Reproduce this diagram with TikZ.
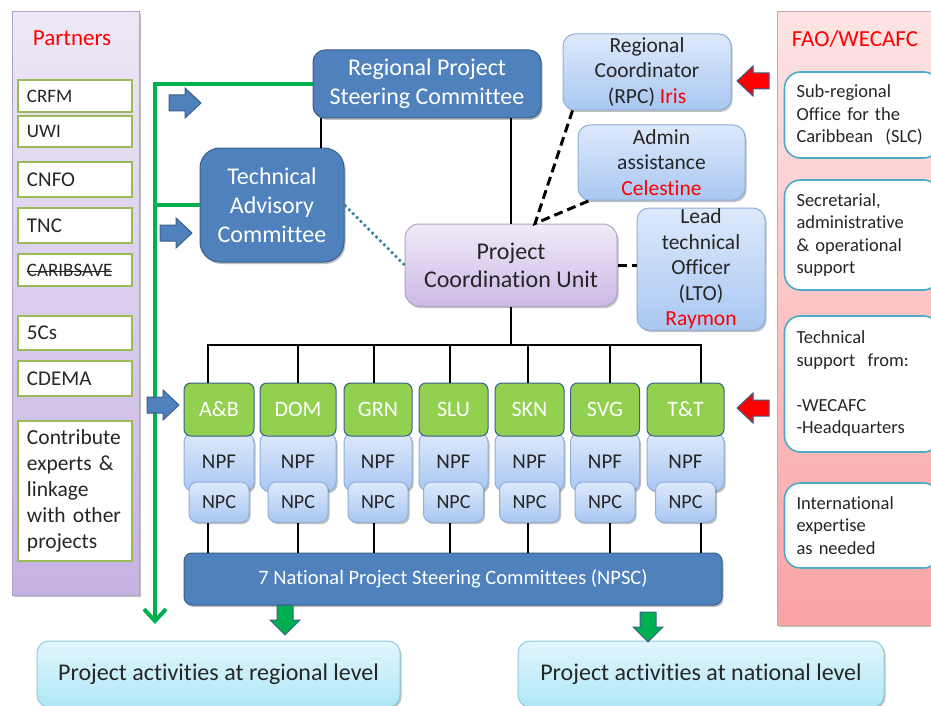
\documentclass[tikz,border=0pt]{standalone}
\usepackage{fontspec}
\setmainfont{Carlito}[Ligatures=NoCommon]
\usetikzlibrary{shadows,arrows.meta}

\definecolor{ink}{HTML}{262626}
\definecolor{alert}{HTML}{FF0000}
\definecolor{boxblue}{HTML}{4F81BD}
\definecolor{blueline}{HTML}{3A5F8C}
\definecolor{leafgreen}{HTML}{92D050}
\definecolor{linegreen}{HTML}{00B050}
\definecolor{partnerline}{HTML}{9BBB59}
\definecolor{lavtop}{HTML}{EEE8F6}
\definecolor{lavbot}{HTML}{C6B2E2}
\definecolor{lavline}{HTML}{B3A3CC}
\definecolor{pinktop}{HTML}{FDE4E4}
\definecolor{pinkbot}{HTML}{F9A3A3}
\definecolor{pinkline}{HTML}{D4A5A5}
\definecolor{skytop}{HTML}{DDE9FB}
\definecolor{skybot}{HTML}{A9C7F2}
\definecolor{skyline}{HTML}{8EB0DC}
\definecolor{pcutop}{HTML}{F1EBF8}
\definecolor{pcubot}{HTML}{CDB9E6}
\definecolor{pculine}{HTML}{B3A2C7}
\definecolor{cyantop}{HTML}{E2F6FC}
\definecolor{cyanbot}{HTML}{B0E7F7}
\definecolor{cyanline}{HTML}{92CDDC}
\definecolor{tealline}{HTML}{4BACC6}
\definecolor{dotteal}{HTML}{31859C}
\definecolor{arrowred}{HTML}{FF0000}
\definecolor{arrowgreen}{HTML}{00B050}

\newcommand\setfs[2]{\fontsize{#1pt}{#2pt}\selectfont}
\newsavebox\strikebox
\newcommand\struck[1]{\sbox\strikebox{#1}\rlap{\rule[0.32\ht\strikebox]{\wd\strikebox}{1pt}}\usebox\strikebox}

\tikzset{
  pics/rightblock/.style={code={
    \draw[fill=boxblue, draw=blueline, line width=1pt]
      (-16,-8) -- (0,-8) -- (0,-15) -- (16,0) -- (0,15) -- (0,8) -- (-16,8) -- cycle;}},
  pics/leftblock/.style={code={
    \draw[fill=arrowred, draw=blueline, line width=1pt]
      (16,-8) -- (0,-8) -- (0,-15) -- (-16,0) -- (0,15) -- (0,8) -- (16,8) -- cycle;}},
  pics/downblock/.style={code={
    \draw[fill=arrowgreen, draw=blueline, line width=1pt]
      (-8,-15) -- (-8,0) -- (-15,0) -- (0,15) -- (15,0) -- (8,0) -- (8,-15) -- cycle;}},
}

\begin{document}
\begin{tikzpicture}[x=1pt,y=-1pt,
  every node/.style={inner sep=0pt, text=ink},
  softshadow/.style={drop shadow={shadow xshift=1.5pt,shadow yshift=-2pt,opacity=0.25,fill=black}},
  title/.style={text=alert, font=\setfs{23}{27}},
  leftpanel/.style={draw=lavline, line width=1pt, top color=lavtop, bottom color=lavbot,
    minimum width=127pt, minimum height=583pt, softshadow},
  rightpanel/.style={draw=pinkline, line width=1pt, top color=pinktop, bottom color=pinkbot,
    minimum width=162pt, minimum height=613pt, softshadow},
  pbox/.style={draw=partnerline, line width=1.6pt, fill=white, minimum width=114pt,
    text width=96pt, inner xsep=9pt, align=left, font=\setfs{19}{22}},
  rbox/.style={draw=tealline, line width=1.6pt, fill=white, rounded corners=16pt,
    minimum width=155pt, text width=131pt, inner xsep=12pt, align=left, font=\setfs{18.5}{22.5}},
  bluebox/.style={draw=blueline, line width=1pt, fill=boxblue, text=white, rounded corners=12pt,
    align=center, font=\setfs{24}{29}, softshadow},
  skybox/.style={draw=skyline, line width=1pt, top color=skytop, bottom color=skybot,
    rounded corners=12pt, align=center, font=\setfs{21.5}{25.5}, softshadow},
  pcubox/.style={draw=pculine, line width=1pt, top color=pcutop, bottom color=pcubot,
    rounded corners=14pt, align=center, font=\setfs{24}{28}, softshadow},
  leaf/.style={draw=blueline, line width=1pt, fill=leafgreen, text=white, rounded corners=7pt,
    minimum height=53pt, font=\setfs{22}{25}},
  npf/.style={skybox, rounded corners=9pt, minimum height=58pt, font=\setfs{21}{24}},
  npc/.style={skybox, rounded corners=8pt, minimum width=60pt, minimum height=40pt, font=\setfs{20}{23}},
  cyanbox/.style={draw=cyanline, line width=1pt, top color=cyantop, bottom color=cyanbot,
    rounded corners=12pt, font=\setfs{24}{28}, softshadow},
  link/.style={draw=black, line width=2.8pt},
  dashlink/.style={draw=black, line width=3pt, dash pattern=on 9pt off 5pt},
  dotlink/.style={draw=dotteal, line width=2.5pt, dash pattern=on 2.5pt off 3pt},
  gline/.style={draw=linegreen, line width=4pt},
]
\clip (0,0) rectangle (931,706);
\fill[white] (0,0) rectangle (931,706);

% ---- side panels ----
\node[leftpanel] (partners) at (75.5,303.5) {};
\node[title] (ptitle) at (72,38) {Partners};
\node[rightpanel] (fao) at (858,318.5) {};
\node[title] (ftitle) at (855,39) {FAO/WECAFC};

% partner organisations
\node[pbox, minimum height=32pt] (crfm) at (75,96) {CRFM};
\node[pbox, minimum height=31pt] (uwi) at (75,131.5) {UWI};
\node[pbox, minimum height=35pt, font=\setfs{21}{24}] (cnfo) at (75,179.5) {CNFO};
\node[pbox, minimum height=35pt, font=\setfs{21}{24}] (tnc) at (75,225.5) {TNC};
\node[pbox, minimum height=32pt] (caribsave) at (75,270) {\struck{CARIBSAVE}};
\node[pbox, minimum height=34pt, font=\setfs{21}{24}] (fivecs) at (75,333) {5Cs};
\node[pbox, minimum height=35pt, font=\setfs{21}{24}] (cdema) at (75,378.5) {CDEMA};
\node[pbox, minimum height=140pt, font=\setfs{21.5}{26}] (contrib) at (75,491)
  {Contribute\\experts \&\\linkage\\with other\\projects};

% FAO / WECAFC support
\node[rbox, minimum height=86pt] (slc) at (862,115) {Sub-regional\\Office for the\\Caribbean\ \ (SLC)};
\node[rbox, minimum height=110pt] (secr) at (862,235) {Secretarial,\\administrative\\\& operational\\support};
\node[rbox, minimum height=136pt] (techsup) at (862,384) {Technical\\support\ \ from:\\[22.5pt]-WECAFC\\-Headquarters};
\node[rbox, minimum height=85pt] (intl) at (862,525.5) {International\\expertise\\as needed};

% ---- regional structure ----
\node[bluebox, minimum width=228pt, minimum height=68pt] (rpsc) at (427,84) {Regional Project\\Steering Committee};
\node[bluebox, rounded corners=20pt, minimum width=144pt, minimum height=114pt] (tac) at (272,205) {Technical\\Advisory\\Committee};
\node[pcubox, minimum width=212pt, minimum height=82pt] (pcu) at (511,265) {Project\\Coordination Unit};
\node[skybox, minimum width=168pt, minimum height=76pt] (rpc) at (647,72) {Regional\\Coordinator\\(RPC) \textcolor{alert}{Iris}};
\node[skybox, minimum width=167pt, minimum height=75pt] (admin) at (661.5,162.5) {Admin\\assistance\\\textcolor{alert}{Celestine}};
\node[skybox, minimum width=128pt, minimum height=122pt] (lto) at (701,269) {Lead\\technical\\Officer\\(LTO)\\\textcolor{alert}{Raymon}};

% ---- national level ----
\node[bluebox, rounded corners=8pt, minimum width=538pt, minimum height=52pt, font=\setfs{20.5}{24}] (npsc) at (453,579)
  {7 National Project Steering Committees (NPSC)};

\foreach \n/\lab/\cx/\w/\dx in {ab/A\&B/219/70/208, dom/DOM/298/76/298, grn/GRN/378/68/374,
    slu/SLU/453.5/69/450, skn/SKN/529.5/69/528, svg/SVG/605/69/610, tt/T\&T/685.5/77/701}{
  \node[npf, minimum width=\w] (npf\n) at (\cx,462) {NPF};
  \node[leaf, minimum width=\w] (c\n) at (\cx,409.5) {\lab};
  \node[npc] (npc\n) at (\cx,502) {NPC};
  \coordinate (d\n) at (\dx,345);
}

\node[cyanbox, minimum width=363pt, minimum height=66pt] (actreg) at (218.5,674) {Project activities at regional level};
\node[cyanbox, minimum width=366pt, minimum height=66pt] (actnat) at (701,674) {Project activities at national level};

% ---- connectors ----
\coordinate (gx) at (155,0);
\coordinate (gend) at (155,624);
\draw[gline, -{Straight Barb[length=12pt,width=22pt]}] (rpsc.west) -- (rpsc.west -| gx) -- (gend);
\draw[gline] (tac.west) -- (tac.west -| gx);

\coordinate (rtac) at (321,0);
\draw[link] (rpsc.south -| rtac) -- (tac.north -| rtac);
\draw[link] (rpsc.south -| pcu.north) -- (pcu.north);
\draw[dotlink] (tac.east) -- (pcu.west);

\coordinate (pcujoin) at ([xshift=24pt]pcu.north);
\draw[dashlink] ([xshift=10pt]rpc.south west) -- (pcujoin) -- ([xshift=12pt]admin.south west);
\draw[dashlink] (pcu.east) -- (lto.west |- pcu.east);

\draw[link] (pcu.south) -- (pcu.south |- dab);
\draw[link] (dab |- cab.north) -- (dab) -- (dtt) -- (dtt |- ctt.north);
\foreach \n in {dom,grn,slu,skn,svg}{
  \draw[link] (d\n) -- (d\n |- c\n.north);
}
\foreach \n in {ab,dom,grn,slu,skn,svg,tt}{
  \draw[link] (d\n |- npc\n.south) -- (d\n |- npsc.north);
}

% ---- block arrows ----
\pic (inrpsc) at (185,103) {rightblock};
\pic (intac) at (176,233) {rightblock};
\pic (innat) at (163,405) {rightblock};
\pic (faorpc) at (753,81) {leftblock};
\pic (faonat) at (753,408) {leftblock};
\pic (toreg) at (285,620) {downblock};
\pic (tonat) at (648,627) {downblock};
\end{tikzpicture}
\end{document}
